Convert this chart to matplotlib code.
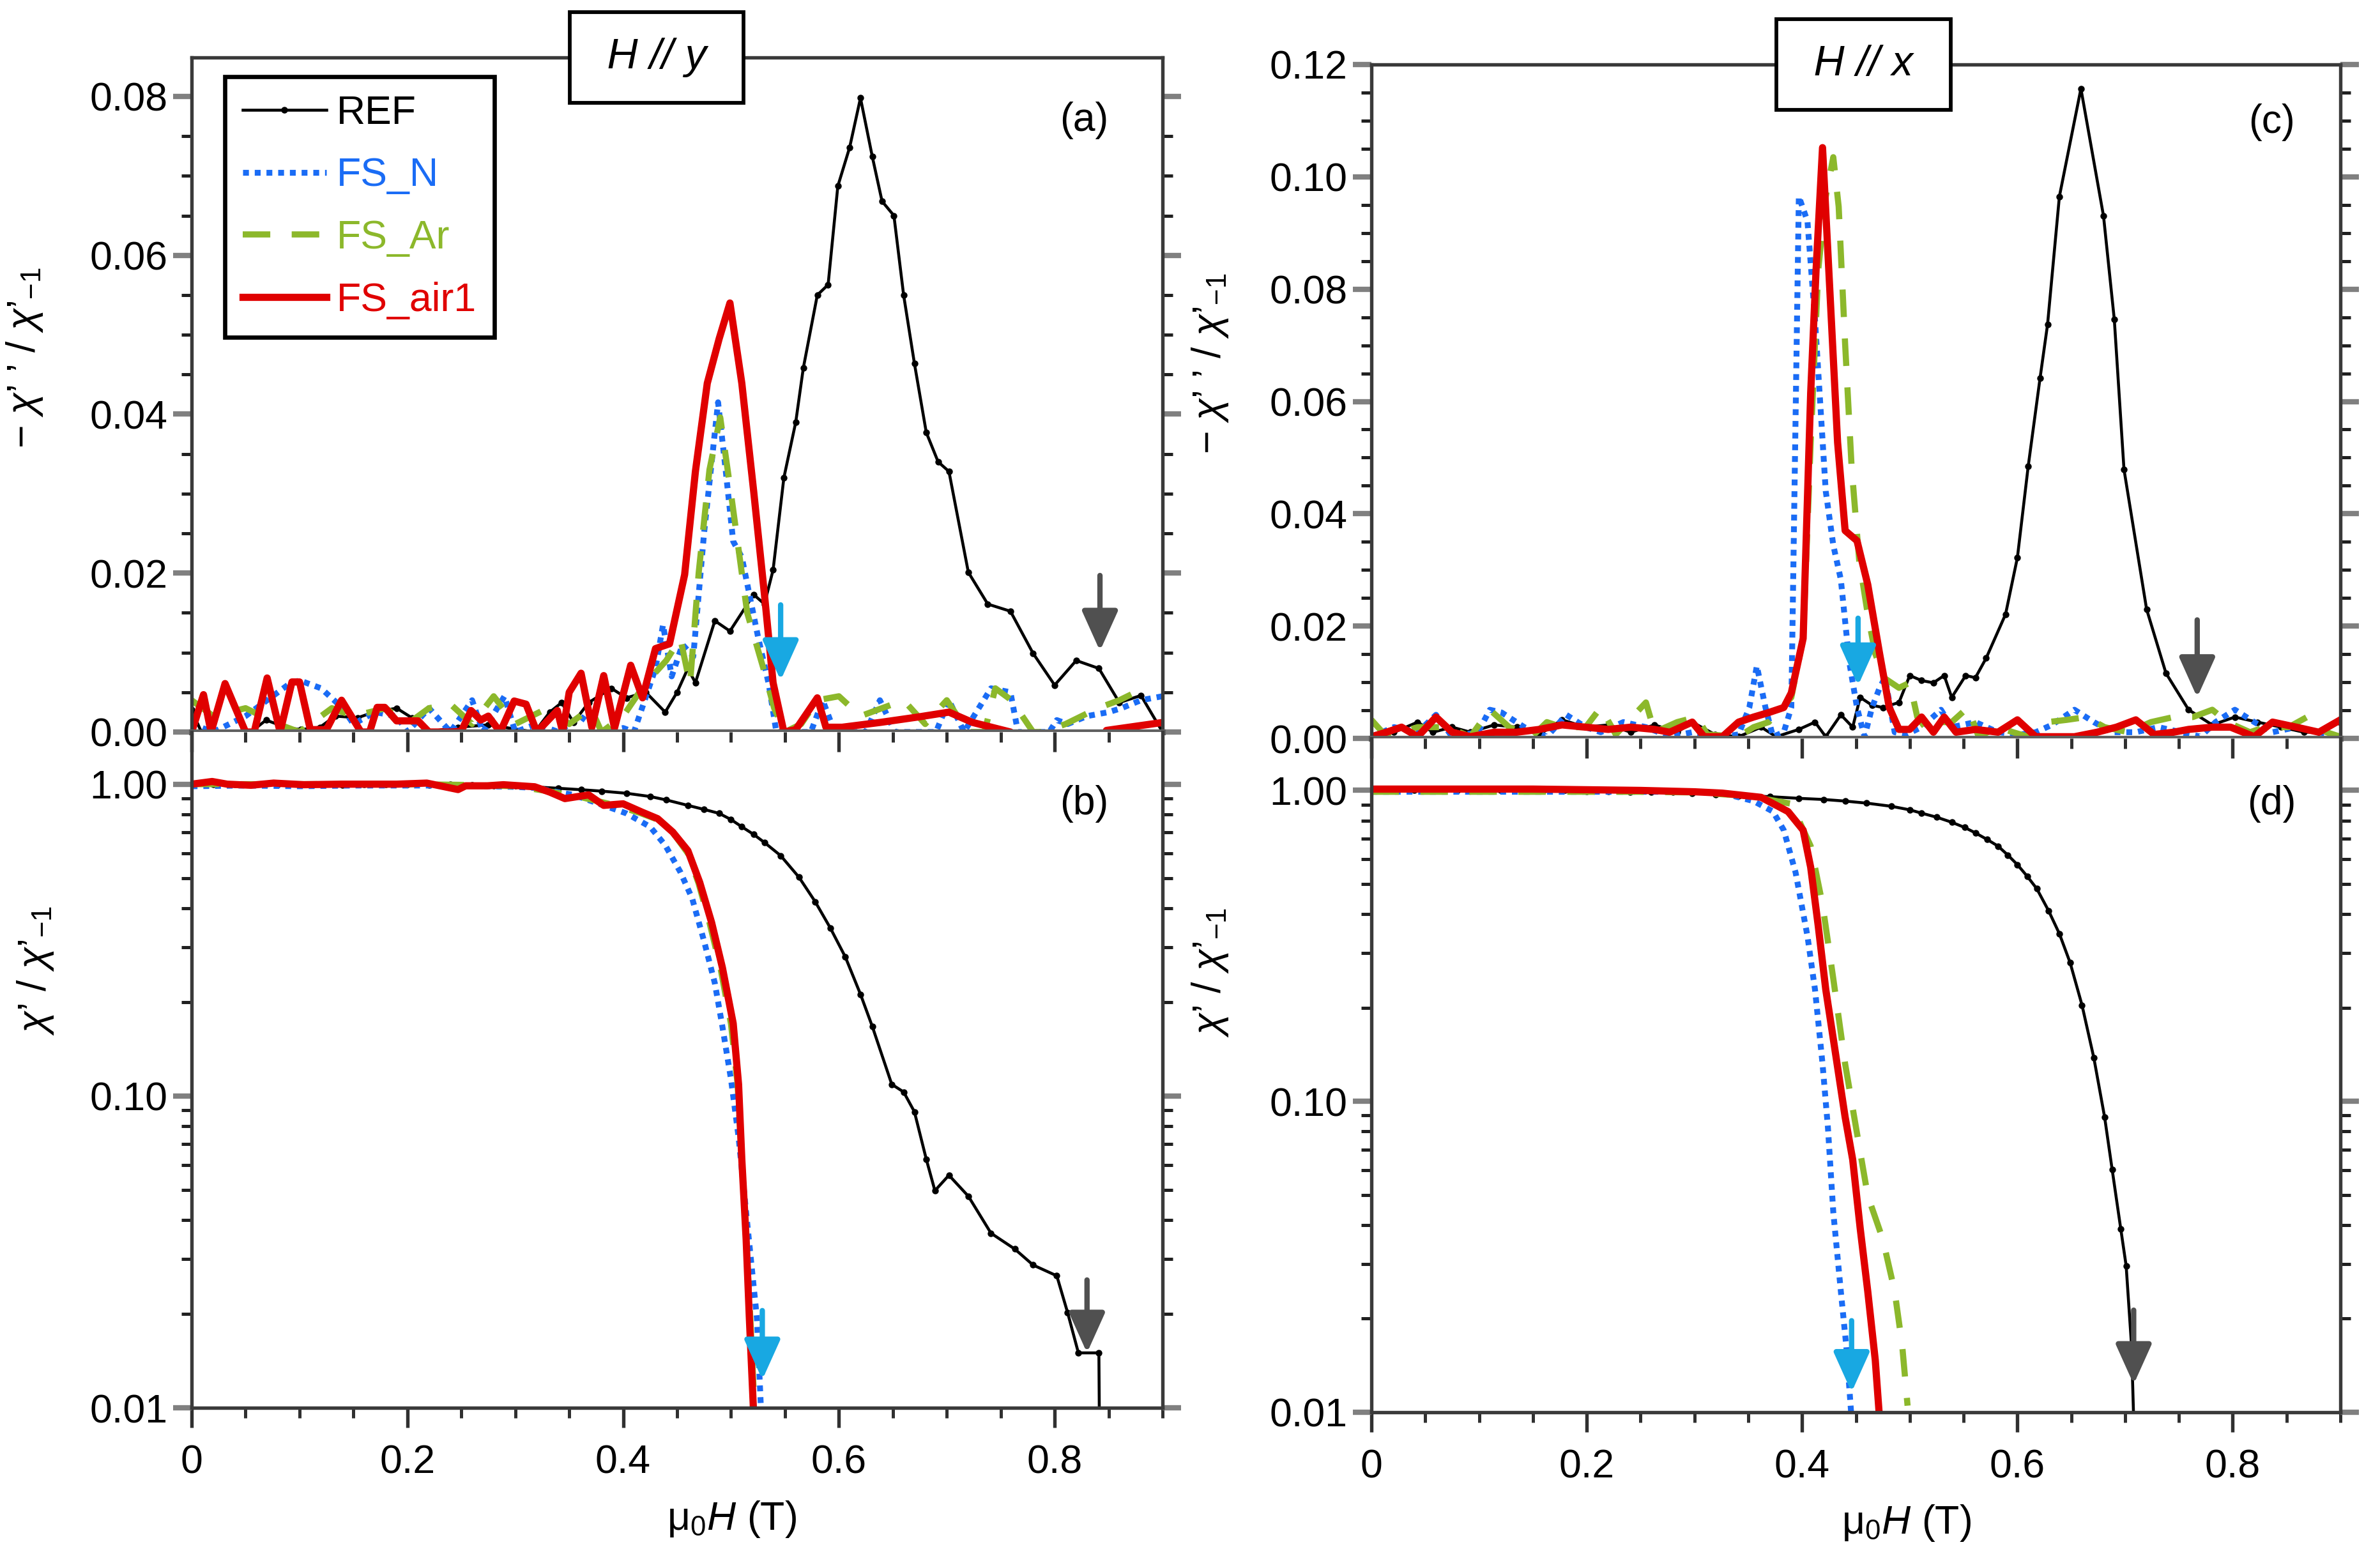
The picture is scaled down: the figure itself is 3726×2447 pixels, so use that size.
import matplotlib
matplotlib.use("Agg")
import matplotlib.pyplot as plt
from matplotlib.ticker import MultipleLocator, FixedLocator, FixedFormatter, NullFormatter, LogLocator

plt.rcParams['font.family'] = ['Liberation Sans', 'DejaVu Sans']
plt.rcParams['mathtext.fontset'] = 'custom'
plt.rcParams['mathtext.rm'] = 'Liberation Sans'
plt.rcParams['mathtext.it'] = 'Liberation Sans:italic'
plt.rcParams['mathtext.bf'] = 'Liberation Sans:bold'

# ---------------- (a) H // y, -chi'' / chi'_-1 ----------------
a_ref_x = [0, 0.009, 0.055, 0.069, 0.087, 0.101, 0.119, 0.133, 0.154, 0.169,
           0.19, 0.204, 0.218, 0.247, 0.275, 0.318, 0.332, 0.343, 0.354, 0.368,
           0.389, 0.403, 0.421, 0.439, 0.45, 0.46, 0.467, 0.485, 0.499, 0.521,
           0.531, 0.539, 0.549, 0.56, 0.567, 0.58, 0.59, 0.599, 0.61, 0.62,
           0.631, 0.64, 0.651, 0.66, 0.67, 0.681, 0.692, 0.702, 0.72, 0.738,
           0.759, 0.78, 0.8, 0.82, 0.841, 0.86, 0.88, 0.9]
a_ref_y = [0.0028, 0, 0, 0.0015, 0.0006, 0.0003, 0.0006, 0.002, 0.0018, 0.0025,
           0.003, 0.0018, 0, 0.0006, 0.0009, 0, 0.0025, 0.0037, 0.0012, 0.0037,
           0.0055, 0.0043, 0.005, 0.0025, 0.005, 0.008, 0.0062, 0.014, 0.0127, 0.0173,
           0.0161, 0.0204, 0.032, 0.039, 0.0458, 0.055, 0.0563, 0.0687, 0.0736, 0.0798,
           0.0724, 0.0668, 0.065, 0.055, 0.0464, 0.0377, 0.034, 0.0328, 0.0201, 0.0161,
           0.0152, 0.0099, 0.0059, 0.009, 0.008, 0.0037, 0.0046, 0]

a_n_x = [0, 0.02, 0.05, 0.07, 0.09, 0.10, 0.12, 0.14, 0.15, 0.17,
         0.19, 0.20, 0.22, 0.24, 0.26, 0.27, 0.29, 0.30, 0.32, 0.34,
         0.36, 0.38, 0.40, 0.41, 0.42, 0.43, 0.437, 0.445, 0.455, 0.465,
         0.475, 0.488, 0.495, 0.502, 0.51, 0.525, 0.535, 0.542, 0.574, 0.585,
         0.596, 0.625, 0.638, 0.652, 0.69, 0.702, 0.716, 0.741, 0.759, 0.766,
         0.795, 0.802, 0.812, 0.83, 0.85, 0.862, 0.88, 0.9]
a_n_y = [0.001, 0, 0.002, 0.004, 0.006, 0.0065, 0.0055, 0.003, 0.001, 0.0025,
         0.002, 0, 0.003, 0, 0.004, 0, 0.0045, 0, 0.001, 0,
         0.002, 0, 0.0005, 0, 0.004, 0.008, 0.0135, 0.007, 0.011, 0.0095,
         0.025, 0.0415, 0.033, 0.024, 0.022, 0.012, 0.006, 0, 0, 0.004,
         0, 0, 0.004, 0, 0, 0.004, 0, 0.0055, 0.005, 0,
         0, 0.0015, 0.001, 0.002, 0.0025, 0.003, 0.004, 0.0045]

a_ar_x = [0, 0.02, 0.05, 0.08, 0.10, 0.13, 0.15, 0.18, 0.20, 0.22,
          0.24, 0.26, 0.28, 0.30, 0.33, 0.35, 0.37, 0.38, 0.40, 0.42,
          0.44, 0.453, 0.462, 0.47, 0.48, 0.49, 0.50, 0.515, 0.53, 0.54,
          0.55, 0.565, 0.58, 0.60, 0.62, 0.64, 0.66, 0.68, 0.70, 0.72,
          0.735, 0.745, 0.76, 0.78, 0.79, 0.81, 0.84, 0.86, 0.875]
a_ar_y = [0.004, 0.002, 0.003, 0.001, 0, 0.003, 0.002, 0.003, 0.001, 0.003,
          0.0035, 0.001, 0.0045, 0.001, 0.003, 0.001, 0.003, 0, 0.002, 0.006,
          0.009, 0.0118, 0.006, 0.02, 0.033, 0.0396, 0.03, 0.015, 0.008, 0.003,
          0, 0.001, 0.004, 0.0045, 0.002, 0.003, 0.004, 0.001, 0.004, 0,
          0, 0.0055, 0.004, 0, 0, 0.001, 0.003, 0.004, 0.005]

a_air_x = [0, 0.011, 0.018, 0.031, 0.05, 0.058, 0.07, 0.082, 0.093, 0.1,
           0.11, 0.125, 0.139, 0.157, 0.165, 0.172, 0.179, 0.19, 0.21, 0.22,
           0.24, 0.25, 0.259, 0.268, 0.275, 0.286, 0.299, 0.31, 0.32, 0.339,
           0.344, 0.35, 0.361, 0.371, 0.382, 0.392, 0.407, 0.418, 0.43, 0.443,
           0.457, 0.467, 0.478, 0.489, 0.499, 0.51, 0.521, 0.531, 0.539, 0.549,
           0.56, 0.58, 0.588, 0.603, 0.638, 0.674, 0.702, 0.724, 0.759, 0.77,
           0.845, 0.848, 0.9]
a_air_y = [0, 0.0047, 0, 0.0061, 0, 0, 0.0068, 0, 0.0063, 0.0063,
           0.0003, 0.0003, 0.004, 0, 0, 0.0031, 0.0031, 0.0014, 0.0014, 0,
           0, 0.0001, 0.0027, 0.0015, 0.002, 0, 0.0039, 0.0035, 0, 0.0027,
           0, 0.005, 0.0074, 0.0006, 0.0071, 0.0005, 0.0084, 0.0043, 0.0105, 0.0111,
           0.0198, 0.0328, 0.0439, 0.0495, 0.054, 0.0439, 0.0303, 0.0173, 0.0062, 0,
           0.0003, 0.0043, 0.0006, 0.0006, 0.0012, 0.0019, 0.0025, 0.0012, 0, -0.001,
           -0.001, 0.0002, 0.0012]

# ---------------- (b) H // y, chi' / chi'_-1 ----------------
b_ref_x = [0, 0.02, 0.04, 0.06, 0.08, 0.1, 0.12, 0.14, 0.16, 0.18, 0.2, 0.22, 0.24,
           0.26, 0.28, 0.3, 0.318, 0.34, 0.361, 0.38, 0.403, 0.425, 0.44, 0.46, 0.475,
           0.489, 0.5, 0.51, 0.521, 0.531, 0.546, 0.563, 0.578, 0.592, 0.606, 0.62,
           0.631, 0.649, 0.66, 0.67, 0.681, 0.689, 0.702, 0.72, 0.741, 0.763, 0.78,
           0.802, 0.812, 0.822, 0.841, 0.842]
b_ref_y = [1.0, 1.0, 1.0, 1.0, 1.0, 1.0, 1.0, 0.995, 1.0, 1.0, 1.0, 0.995, 1.0,
           0.995, 0.99, 0.99, 0.98, 0.97, 0.96, 0.95, 0.935, 0.913, 0.89, 0.855, 0.83,
           0.806, 0.77, 0.73, 0.69, 0.65, 0.59, 0.503, 0.42, 0.346, 0.279, 0.212,
           0.167, 0.109, 0.103, 0.089, 0.0627, 0.0497, 0.0557, 0.0477, 0.0363, 0.0323, 0.0287,
           0.0265, 0.0202, 0.015, 0.015, 0.005]

b_n_x = [0, 0.05, 0.1, 0.15, 0.2, 0.25, 0.3, 0.318, 0.354, 0.382, 0.403, 0.425,
         0.439, 0.453, 0.464, 0.475, 0.485, 0.492, 0.5, 0.507, 0.514, 0.521, 0.524, 0.528]
b_n_y = [0.985, 0.99, 0.985, 0.99, 0.99, 0.99, 0.98, 0.973, 0.924, 0.855, 0.806, 0.73,
         0.637, 0.523, 0.43, 0.314, 0.23, 0.167, 0.113, 0.0738, 0.0424, 0.0245, 0.0194, 0.0095]

b_ar_x = [0, 0.05, 0.1, 0.15, 0.2, 0.25, 0.3, 0.33, 0.36, 0.39, 0.415, 0.432, 0.446,
          0.46, 0.47, 0.48, 0.49, 0.5, 0.506, 0.51, 0.514, 0.518, 0.522]
b_ar_y = [1.0, 1.0, 1.0, 1.0, 1.0, 0.995, 0.985, 0.95, 0.91, 0.86, 0.81, 0.77, 0.70,
          0.60, 0.48, 0.36, 0.26, 0.17, 0.11, 0.063, 0.035, 0.019, 0.0095]

b_air_x = [0, 0.019, 0.033, 0.055, 0.076, 0.104, 0.139, 0.175, 0.19, 0.218, 0.247,
           0.254, 0.274, 0.289, 0.318, 0.332, 0.346, 0.368, 0.382, 0.4, 0.418, 0.432,
           0.446, 0.46, 0.471, 0.482, 0.492, 0.502, 0.507, 0.51, 0.514, 0.517, 0.521]
b_air_y = [1.0, 1.02, 1.0, 0.992, 1.008, 0.996, 1.0, 1.0, 1.0, 1.008, 0.961,
           0.988, 0.988, 0.996, 0.981, 0.943, 0.899, 0.924, 0.855, 0.865, 0.812, 0.775,
           0.702, 0.612, 0.484, 0.36, 0.258, 0.171, 0.109, 0.0627, 0.0348, 0.0194, 0.0095]

# ---------------- (c) H // x, -chi'' / chi'_-1 ----------------
c_ref_x = [0, 0.021, 0.043, 0.057, 0.075, 0.092, 0.114, 0.135, 0.156, 0.177,
           0.199, 0.22, 0.241, 0.263, 0.284, 0.298, 0.319, 0.341, 0.362, 0.376,
           0.397, 0.412, 0.422, 0.436, 0.447, 0.454, 0.465, 0.475, 0.49, 0.5,
           0.511, 0.522, 0.532, 0.539, 0.552, 0.561, 0.571, 0.589, 0.6, 0.61,
           0.621, 0.628, 0.639, 0.659, 0.68, 0.69, 0.699, 0.72, 0.738, 0.759,
           0.781, 0.802, 0.823, 0.845, 0.866, 0.88, 0.9]
c_ref_y = [0.0003, 0.0011, 0.0029, 0.0011, 0.002, 0.0011, 0.0024, 0.002, 0.0007, 0.0033,
           0.002, 0.0024, 0.0011, 0.0024, 0.0011, 0.0029, 0.0007, 0.0003, 0.002, 0.0003,
           0.0016, 0.0029, 0.0003, 0.0042, 0.002, 0.0073, 0.0059, 0.0055, 0.0064, 0.0112,
           0.0103, 0.0099, 0.0112, 0.0073, 0.0112, 0.0108, 0.0143, 0.0221, 0.0322, 0.0484,
           0.0641, 0.0737, 0.0965, 0.1157, 0.093, 0.0746, 0.0479, 0.023, 0.0116, 0.0051,
           0.0024, 0.0038, 0.0029, 0.002, 0.0011, 0.0011, 0.0029]

c_n_x = [0, 0.021, 0.043, 0.06, 0.075, 0.099, 0.11, 0.121, 0.142, 0.163,
         0.181, 0.199, 0.213, 0.234, 0.255, 0.277, 0.298, 0.326, 0.341, 0.351,
         0.358, 0.366, 0.373, 0.383, 0.39, 0.397, 0.405, 0.412, 0.422, 0.429,
         0.436, 0.444, 0.451, 0.458, 0.465, 0.472, 0.477, 0.486, 0.497, 0.511,
         0.529, 0.539, 0.561, 0.582, 0.603, 0.617, 0.632, 0.653, 0.671, 0.688,
         0.71, 0.731, 0.752, 0.77, 0.784, 0.802, 0.82, 0.837, 0.859, 0.88, 0.9]
c_n_y = [0.0003, 0.002, 0.0011, 0.0042, 0.0003, 0.0011, 0.0051, 0.0046, 0.002, 0.0003,
         0.0042, 0.002, 0.0011, 0.0029, 0.002, 0.0003, 0.0011, 0.0003, 0.0007, 0.0055,
         0.0129, 0.0055, 0.0003, 0.0011, 0.0055, 0.0965, 0.0921, 0.0746, 0.044, 0.0344,
         0.0283, 0.0134, 0.0055, 0.0003, 0.0055, 0.009, 0.0108, 0.0011, 0.0007, 0.002,
         0.0051, 0.002, 0.0029, 0.0011, 0.0007, 0.0011, 0.0024, 0.0051, 0.0029, 0.0011,
         0.0011, 0.002, 0.0011, 0.0003, 0.0029, 0.0051, 0.0029, 0.0011, 0.002, 0.0011, 0.0003]

c_ar_x = [0, 0.014, 0.043, 0.071, 0.092, 0.11, 0.128, 0.149, 0.163, 0.177,
          0.199, 0.213, 0.227, 0.255, 0.263, 0.284, 0.302, 0.312, 0.341, 0.355,
          0.369, 0.39, 0.401, 0.408, 0.415, 0.422, 0.429, 0.434, 0.44, 0.446,
          0.453, 0.461, 0.468, 0.476, 0.49, 0.5, 0.507, 0.518, 0.529, 0.539,
          0.554, 0.564, 0.582, 0.596, 0.61, 0.628, 0.646, 0.664, 0.681, 0.703,
          0.724, 0.745, 0.763, 0.781, 0.795, 0.816, 0.83, 0.852, 0.869, 0.887, 0.9]
c_ar_y = [0.0033, 0.0003, 0.002, 0.002, 0.0003, 0.0051, 0.002, 0.0003, 0.0029, 0.002,
          0.002, 0.0055, 0.0007, 0.0064, 0.0011, 0.0029, 0.0038, 0.0007, 0.0003, 0.002,
          0.0029, 0.0073, 0.0178, 0.0527, 0.0834, 0.0965, 0.1035, 0.0947, 0.0702, 0.0484,
          0.0318, 0.0221, 0.0151, 0.0108, 0.009, 0.0099, 0.0038, 0.0011, 0.0029, 0.0029,
          0.0055, 0.0003, 0.002, 0.0011, 0.0003, 0.0029, 0.0033, 0.0038, 0.002, 0.0011,
          0.0029, 0.0038, 0.0038, 0.0051, 0.0029, 0.0011, 0.002, 0.002, 0.0038, 0.0011, 0.0003]

c_air_x = [0, 0.014, 0.028, 0.043, 0.06, 0.075, 0.092, 0.114, 0.135, 0.156,
           0.177, 0.199, 0.22, 0.241, 0.263, 0.277, 0.298, 0.309, 0.326, 0.341,
           0.355, 0.369, 0.383, 0.39, 0.401, 0.408, 0.413, 0.419, 0.426, 0.433,
           0.44, 0.451, 0.461, 0.472, 0.481, 0.49, 0.5, 0.511, 0.522, 0.532,
           0.543, 0.561, 0.582, 0.6, 0.617, 0.632, 0.653, 0.674, 0.692, 0.71,
           0.727, 0.745, 0.759, 0.781, 0.798, 0.82, 0.837, 0.859, 0.88, 0.9]
c_air_y = [0.0003, 0.0011, 0.002, 0.0003, 0.0038, 0.0011, 0.0003, 0.0011, 0.0011, 0.0016,
           0.0024, 0.002, 0.0016, 0.002, 0.0016, 0.0011, 0.0029, 0.0003, 0.0003, 0.0029,
           0.0038, 0.0046, 0.0055, 0.0081, 0.0178, 0.0615, 0.0834, 0.1052, 0.079, 0.0527,
           0.037, 0.0352, 0.0274, 0.0151, 0.0055, 0.0016, 0.0016, 0.0038, 0.0011, 0.0038,
           0.0011, 0.0016, 0.0011, 0.0033, 0.0003, 0.0003, 0.0003, 0.0011, 0.002, 0.0033,
           0.0007, 0.0011, 0.0016, 0.002, 0.002, 0.0003, 0.0029, 0.002, 0.0011, 0.0033]

# ---------------- (d) H // x, chi' / chi'_-1 ----------------
d_ref_x = [0, 0.02, 0.04, 0.06, 0.08, 0.1, 0.12, 0.14, 0.16, 0.18, 0.2, 0.22, 0.24,
           0.26, 0.28, 0.298, 0.32, 0.341, 0.37, 0.397, 0.42, 0.44, 0.46, 0.483, 0.5,
           0.511, 0.525, 0.539, 0.551, 0.561, 0.572, 0.582, 0.591, 0.6, 0.609, 0.618,
           0.629, 0.639, 0.649, 0.66, 0.671, 0.681, 0.688, 0.696, 0.701, 0.706, 0.708]
d_ref_y = [1.0, 1.0, 1.0, 1.0, 1.0, 1.0, 1.0, 1.0, 1.0, 1.0, 0.995, 0.995, 0.99,
           0.99, 0.99, 0.98, 0.97, 0.962, 0.955, 0.943, 0.935, 0.924, 0.91, 0.889, 0.866,
           0.845, 0.82, 0.79, 0.76, 0.73, 0.695, 0.662, 0.62, 0.577, 0.53, 0.483,
           0.41, 0.346, 0.279, 0.204, 0.138, 0.089, 0.0604, 0.0389, 0.0296, 0.0164, 0.0095]

d_n_x = [0, 0.05, 0.1, 0.15, 0.2, 0.25, 0.3, 0.326, 0.355, 0.373, 0.383, 0.394,
         0.405, 0.412, 0.419, 0.424, 0.429, 0.436, 0.441, 0.446]
d_n_y = [0.99, 0.99, 0.99, 0.99, 0.99, 0.99, 0.99, 0.98, 0.924, 0.855, 0.745, 0.544,
         0.34, 0.229, 0.132, 0.0825, 0.044, 0.0245, 0.0164, 0.0095]

d_ar_x = [0, 0.05, 0.1, 0.15, 0.2, 0.25, 0.3, 0.35, 0.39, 0.408, 0.419, 0.429,
          0.44, 0.451, 0.461, 0.475, 0.486, 0.493, 0.498]
d_ar_y = [0.99, 0.99, 0.99, 0.99, 0.99, 0.99, 0.985, 0.96, 0.906, 0.662, 0.43, 0.248,
          0.132, 0.079, 0.0497, 0.036, 0.0245, 0.0164, 0.0105]

d_air_x = [0, 0.05, 0.1, 0.15, 0.2, 0.25, 0.3, 0.326, 0.362, 0.387, 0.401, 0.408,
           0.415, 0.422, 0.431, 0.44, 0.447, 0.454, 0.461, 0.468, 0.472]
d_air_y = [1.01, 1.01, 1.01, 1.01, 1.005, 1.0, 0.99, 0.98, 0.95, 0.855, 0.745, 0.566,
           0.367, 0.229, 0.143, 0.089, 0.065, 0.039, 0.0245, 0.0147, 0.0095]

# arrows: (x, y_tail, y_tip) for the sample (cyan) and REF (gray)
arrows_a = [(0.546, 0.0160, 0.0065), (0.842, 0.0197, 0.0102)]
arrows_b = [(0.529, 0.0205, 0.0123), (0.830, 0.0257, 0.0150)]
arrows_c = [(0.452, 0.0214, 0.0094), (0.767, 0.0211, 0.0073)]
arrows_d = [(0.446, 0.0197, 0.0116), (0.708, 0.0213, 0.0123)]

labels = ['REF', 'FS_N', 'FS_Ar', 'FS_air1']

# styles
C_REF = 'black'
C_N = '#1a6cf5'
C_AR = '#8cb82b'
C_AIR = '#e00000'
C_CYAN = '#18a8e2'
C_GRAY = '#505050'
FS = 15

styles = [
    dict(color=C_REF, lw=1.1, marker='o', ms=1.5, ls='-'),
    dict(color=C_N, lw=2.2, ls=(0, (1, 1.0))),
    dict(color=C_AR, lw=2.3, ls=(0, (4.5, 3.5))),
    dict(color=C_AIR, lw=2.7, ls='-'),
]


def style_common(ax):
    for sp in ax.spines.values():
        sp.set_color('#3a3a3a')
        sp.set_linewidth(1.3)
    ax.tick_params(axis='y', which='major', direction='out', left=True, right=True,
                   length=7, width=2.0, color='#808080', labelsize=FS, pad=2)
    ax.tick_params(axis='y', which='minor', direction='out', left=True, right=True,
                   length=3.8, width=1.2, color='#202020')
    ax.set_xlim(0, 0.9)


def style_top(ax, ymax):
    style_common(ax)
    ax.set_ylim(0, ymax)
    ax.yaxis.set_major_locator(MultipleLocator(0.02))
    ax.yaxis.set_minor_locator(MultipleLocator(0.005))
    ax.yaxis.set_major_formatter(matplotlib.ticker.FormatStrFormatter('%.2f'))
    ax.tick_params(axis='x', which='both', bottom=False, top=False, labelbottom=False)
    ax.spines['bottom'].set_color('#606060')
    ax.spines['bottom'].set_linewidth(2.2)


def style_bottom(ax):
    style_common(ax)
    ax.set_yscale('log')
    ax.set_ylim(0.01, 1.47)
    ax.yaxis.set_major_locator(FixedLocator([0.01, 0.1, 1.0]))
    ax.yaxis.set_major_formatter(FixedFormatter(['0.01', '0.10', '1.00']))
    ax.yaxis.set_minor_locator(LogLocator(base=10, subs=range(2, 10)))
    ax.yaxis.set_minor_formatter(NullFormatter())
    ax.xaxis.set_major_locator(MultipleLocator(0.2))
    ax.xaxis.set_minor_locator(MultipleLocator(0.05))
    ax.xaxis.set_major_formatter(matplotlib.ticker.FuncFormatter(
        lambda v, p: '0' if abs(v) < 1e-9 else ('%.1f' % v if v < 0.85 else '')))
    ax.tick_params(axis='x', which='major', direction='out', bottom=True, top=False,
                   length=7.5, width=1.3, color='#303030', labelsize=FS, pad=6)
    ax.tick_params(axis='x', which='minor', direction='out', bottom=True, top=False,
                   length=3.8, width=1.2, color='#303030')
    ax.spines['top'].set_visible(False)
    # ticks on the shared border, pointing down into this panel
    sec = ax.secondary_xaxis('top')
    sec.xaxis.set_major_locator(MultipleLocator(0.2))
    sec.xaxis.set_minor_locator(MultipleLocator(0.05))
    sec.tick_params(axis='x', which='major', direction='in', length=7.5, width=1.3,
                    color='#303030', labeltop=False)
    sec.tick_params(axis='x', which='minor', direction='in', length=3.8, width=1.2,
                    color='#303030')
    sec.spines['top'].set_visible(False)


def draw_series(ax, series):
    lines = []
    for (x, y), st in zip(series, styles):
        ln, = ax.plot(x, y, **st)
        lines.append(ln)
    return lines


def draw_arrows(ax, arrows):
    for (x, y0, y1), col in zip(arrows, [C_CYAN, C_GRAY]):
        ax.annotate('', xy=(x, y1), xytext=(x, y0),
                    arrowprops=dict(arrowstyle='-|>,head_length=0.8,head_width=0.36',
                                    color=col, lw=2.0, mutation_scale=16,
                                    shrinkA=0, shrinkB=0))


W, H = 3726, 2447
fig = plt.figure(figsize=(W / 300, H / 300), dpi=300)

ax_a = fig.add_axes([300 / W, 1 - 1146 / H, 1520 / W, 1056 / H])
ax_b = fig.add_axes([300 / W, 1 - 2204 / H, 1520 / W, 1058 / H])
ax_c = fig.add_axes([2147 / W, 1 - 1156 / H, 1517 / W, 1055 / H])
ax_d = fig.add_axes([2147 / W, 1 - 2211 / H, 1517 / W, 1055 / H])

ylab_top = r"$-\ \chi$’ ’ / $\chi$’$_{-1}$"
ylab_bot = r"$\chi$’ / $\chi$’$_{-1}$"
xlab = r"$\mathrm{\mu}_0H$ (T)"

# (a)
style_top(ax_a, 0.0849)
lines = draw_series(ax_a, [(a_ref_x, a_ref_y), (a_n_x, a_n_y),
                           (a_ar_x, a_ar_y), (a_air_x, a_air_y)])
draw_arrows(ax_a, arrows_a)
ax_a.set_ylabel(ylab_top, fontsize=FS)
ax_a.yaxis.set_label_coords(-0.151, 0.555)
ax_a.text(0.919, 0.907, '(a)', transform=ax_a.transAxes, fontsize=FS,
          ha='center', va='center')
ax_a.text(0.479, 1.0, ' H // y ', transform=ax_a.transAxes, fontsize=16,
          fontstyle='italic', ha='center', va='center', zorder=10,
          bbox=dict(boxstyle='square,pad=0.6', fc='white', ec='black', lw=1.4))
leg = ax_a.legend(lines, labels, loc='upper left', bbox_to_anchor=(0.034, 0.972),
                  borderaxespad=0, fontsize=FS, frameon=True, fancybox=False,
                  framealpha=1, edgecolor='black', handlelength=2.1,
                  handletextpad=0.25, labelspacing=0.62, borderpad=0.45)
leg.get_frame().set_linewidth(1.6)
for txt, st in zip(leg.get_texts(), styles):
    txt.set_color(st['color'])

# (b)
style_bottom(ax_b)
draw_series(ax_b, [(b_ref_x, b_ref_y), (b_n_x, b_n_y),
                   (b_ar_x, b_ar_y), (b_air_x, b_air_y)])
draw_arrows(ax_b, arrows_b)
ax_b.set_ylabel(ylab_bot, fontsize=FS)
ax_b.yaxis.set_label_coords(-0.14, 0.647)
ax_b.set_xlabel(xlab, fontsize=FS)
ax_b.xaxis.set_label_coords(0.556, -0.135)
ax_b.text(0.919, 0.894, '(b)', transform=ax_b.transAxes, fontsize=FS,
          ha='center', va='center')

# (c)
style_top(ax_c, 0.12)
draw_series(ax_c, [(c_ref_x, c_ref_y), (c_n_x, c_n_y),
                   (c_ar_x, c_ar_y), (c_air_x, c_air_y)])
draw_arrows(ax_c, arrows_c)
ax_c.set_ylabel(ylab_top, fontsize=FS)
ax_c.yaxis.set_label_coords(-0.146, 0.556)
ax_c.text(0.929, 0.914, '(c)', transform=ax_c.transAxes, fontsize=FS,
          ha='center', va='center')
ax_c.text(0.508, 1.0, ' H // x ', transform=ax_c.transAxes, fontsize=16,
          fontstyle='italic', ha='center', va='center', zorder=10,
          bbox=dict(boxstyle='square,pad=0.6', fc='white', ec='black', lw=1.4))

# (d)
style_bottom(ax_d)
draw_series(ax_d, [(d_ref_x, d_ref_y), (d_n_x, d_n_y),
                   (d_ar_x, d_ar_y), (d_air_x, d_air_y)])
draw_arrows(ax_d, arrows_d)
ax_d.set_ylabel(ylab_bot, fontsize=FS)
ax_d.yaxis.set_label_coords(-0.146, 0.653)
ax_d.set_xlabel(xlab, fontsize=FS)
ax_d.xaxis.set_label_coords(0.552, -0.135)
ax_d.text(0.929, 0.903, '(d)', transform=ax_d.transAxes, fontsize=FS,
          ha='center', va='center')

fig.savefig('out.png', dpi=300)
plt.close(fig)
